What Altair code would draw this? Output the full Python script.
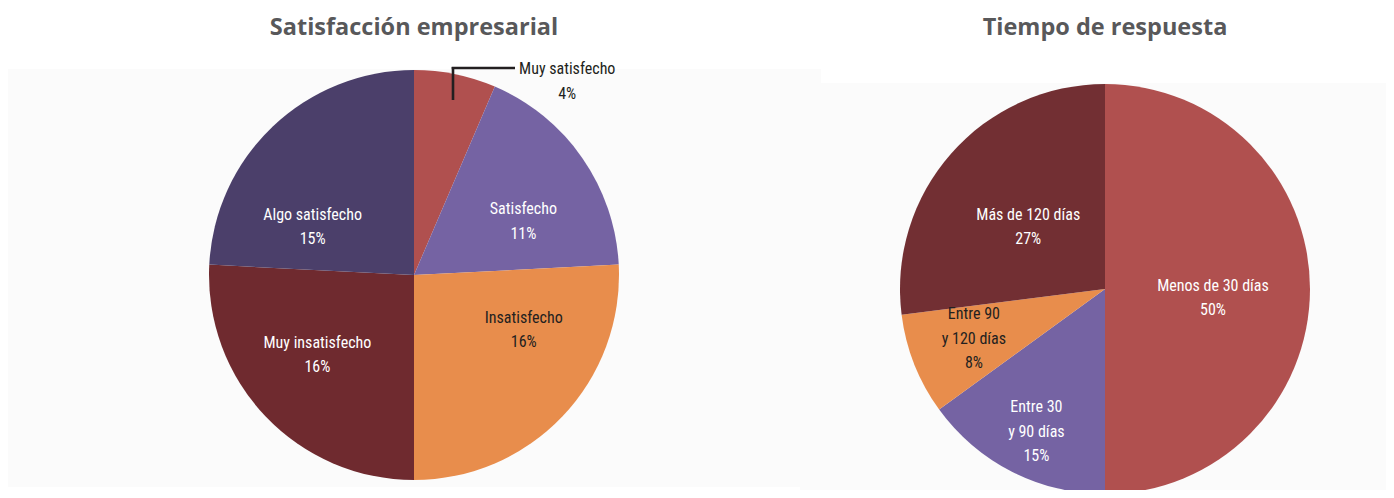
import altair as alt
import pandas as pd

# ---- data ----
sat_cats = ["Muy satisfecho", "Satisfecho", "Insatisfecho", "Muy insatisfecho", "Algo satisfecho"]
sat_disp = ["Muy satisfecho", "Satisfecho", "Insatisfecho", "Muy insatisfecho", "Algo satisfecho"]
sat_vals = [4, 11, 16, 16, 15]
sat_colors = ["#b0504f", "#7563a3", "#e88d4c", "#6f2a2f", "#4b3f6a"]

tie_cats = ["Menos de 30 días", "Entre 30 y 90 días", "Entre 90 y 120 días", "Más de 120 días"]
tie_disp = ["Menos de 30 días", "Entre 30\ny 90 días", "Entre 90\ny 120 días", "Más de 120 días"]
tie_vals = [50, 15, 8, 27]
tie_colors = ["#b0504f", "#7563a3", "#e88d4c", "#722f33"]

titles = ["Satisfacción empresarial", "Tiempo de respuesta"]

W, H = 1378, 482
LABEL_FONT = "Liberation Sans Narrow, Roboto Condensed, DejaVu Sans Condensed, Arial Narrow, sans-serif"
TITLE_FONT = "Open Sans, Lato, DejaVu Sans, sans-serif"
DARK = "#231f20"
LINE_H = 24.5


def make_df(cats, disp, vals):
    return pd.DataFrame({
        "idx": list(range(len(cats))),
        "cat": cats,
        "disp": disp,
        "val": vals,
    })


def pie(df, cats, disp, colors, cx, cy, r, labels):
    base = alt.Chart(df).transform_calculate(
        label="datum.disp + '\\n' + datum.val + '%'"
    )
    theta = alt.Theta("val:Q", stack=True)
    order = alt.Order("idx:Q")
    arc = base.mark_arc(outerRadius=r, stroke=None).encode(
        theta=theta,
        order=order,
        color=alt.Color("cat:N", scale=alt.Scale(domain=cats, range=colors), legend=None),
        x=alt.value(cx),
        y=alt.value(cy),
    )
    layers = [arc]
    for cat, rad, dx, dy, col in labels:
        nlines = disp[cats.index(cat)].count("\n") + 2
        shift = (nlines - 1) * LINE_H / 2
        t = base.transform_calculate(
            txt=f"datum.cat == '{cat}' ? datum.label : ''"
        ).mark_text(
            radius=rad, dx=dx, dy=dy - shift, font=LABEL_FONT, fontSize=16,
            lineBreak="\n", lineHeight=LINE_H, align="center", baseline="middle",
            color=col,
        ).encode(
            theta=theta,
            order=order,
            text="txt:N",
            x=alt.value(cx),
            y=alt.value(cy),
        )
        layers.append(t)
    return alt.layer(*layers)


# page coords minus 8px margin
L_CX, L_CY, L_R = 406, 267, 205
R_CX, R_CY, R_R = 1097, 281, 205

sat_df = make_df(sat_cats, sat_disp, sat_vals)
tie_df = make_df(tie_cats, tie_disp, tie_vals)

left = pie(sat_df, sat_cats, sat_disp, sat_colors, L_CX, L_CY, L_R, [
    ("Muy satisfecho", 180, 117, -17, DARK),
    ("Satisfecho", 115, 15, 12, "white"),
    ("Insatisfecho", 110, 30, -21, DARK),
    ("Muy insatisfecho", 125, -6, -6, "white"),
    ("Algo satisfecho", 105, -29, 28, "white"),
])

right = pie(tie_df, tie_cats, tie_disp, tie_colors, R_CX, R_CY, R_R, [
    ("Menos de 30 días", 108, 0, 9, "white"),
    ("Entre 30 y 90 días", 160, 4, 0, "white"),
    ("Entre 90 y 120 días", 141, 0, -2, DARK),
    ("Más de 120 días", 97, -4, 2, "white"),
])

# faint background panels
bg_left = alt.Chart(pd.DataFrame({"a": [0]})).mark_rect(color="#fbfbfb").encode(
    x=alt.value(0), x2=alt.value(792), y=alt.value(61), y2=alt.value(479)
)
bg_right = alt.Chart(pd.DataFrame({"a": [0]})).mark_rect(color="#fbfbfb").encode(
    x=alt.value(792), x2=alt.value(W), y=alt.value(75), y2=alt.value(H)
)
bg_mid = alt.Chart(pd.DataFrame({"a": [0]})).mark_rect(color="#fbfbfb").encode(
    x=alt.value(772), x2=alt.value(813), y=alt.value(61), y2=alt.value(75)
)

# leader line for "Muy satisfecho"
lead_v = alt.Chart(pd.DataFrame({"a": [0]})).mark_rule(color=DARK, strokeWidth=2.6).encode(
    x=alt.value(445), y=alt.value(59), y2=alt.value(92)
)
lead_h = alt.Chart(pd.DataFrame({"a": [0]})).mark_rule(color=DARK, strokeWidth=2.6).encode(
    x=alt.value(443.7), x2=alt.value(507), y=alt.value(60)
)

title_df = pd.DataFrame({"t": titles})
t_left = alt.Chart(title_df).transform_filter(alt.datum.t == titles[0]).mark_text(
    font=TITLE_FONT, fontSize=23.5, fontWeight="bold", color="#58585a",
    align="center", baseline="alphabetic"
).encode(text="t:N", x=alt.value(L_CX), y=alt.value(27))
t_right = alt.Chart(title_df).transform_filter(alt.datum.t == titles[1]).mark_text(
    font=TITLE_FONT, fontSize=23.5, fontWeight="bold", color="#58585a",
    align="center", baseline="alphabetic"
).encode(text="t:N", x=alt.value(R_CX), y=alt.value(27))

chart = alt.layer(
    bg_left, bg_right, bg_mid, left, right, lead_v, lead_h, t_left, t_right
).resolve_scale(
    theta="independent", color="independent"
).properties(
    width=W, height=H, padding=0,
    autosize=alt.AutoSizeParams(type="fit", contains="padding"),
    background="white",
).configure_view(stroke=None)

chart.save("out.html", embed_options={"renderer": "svg", "actions": False})
